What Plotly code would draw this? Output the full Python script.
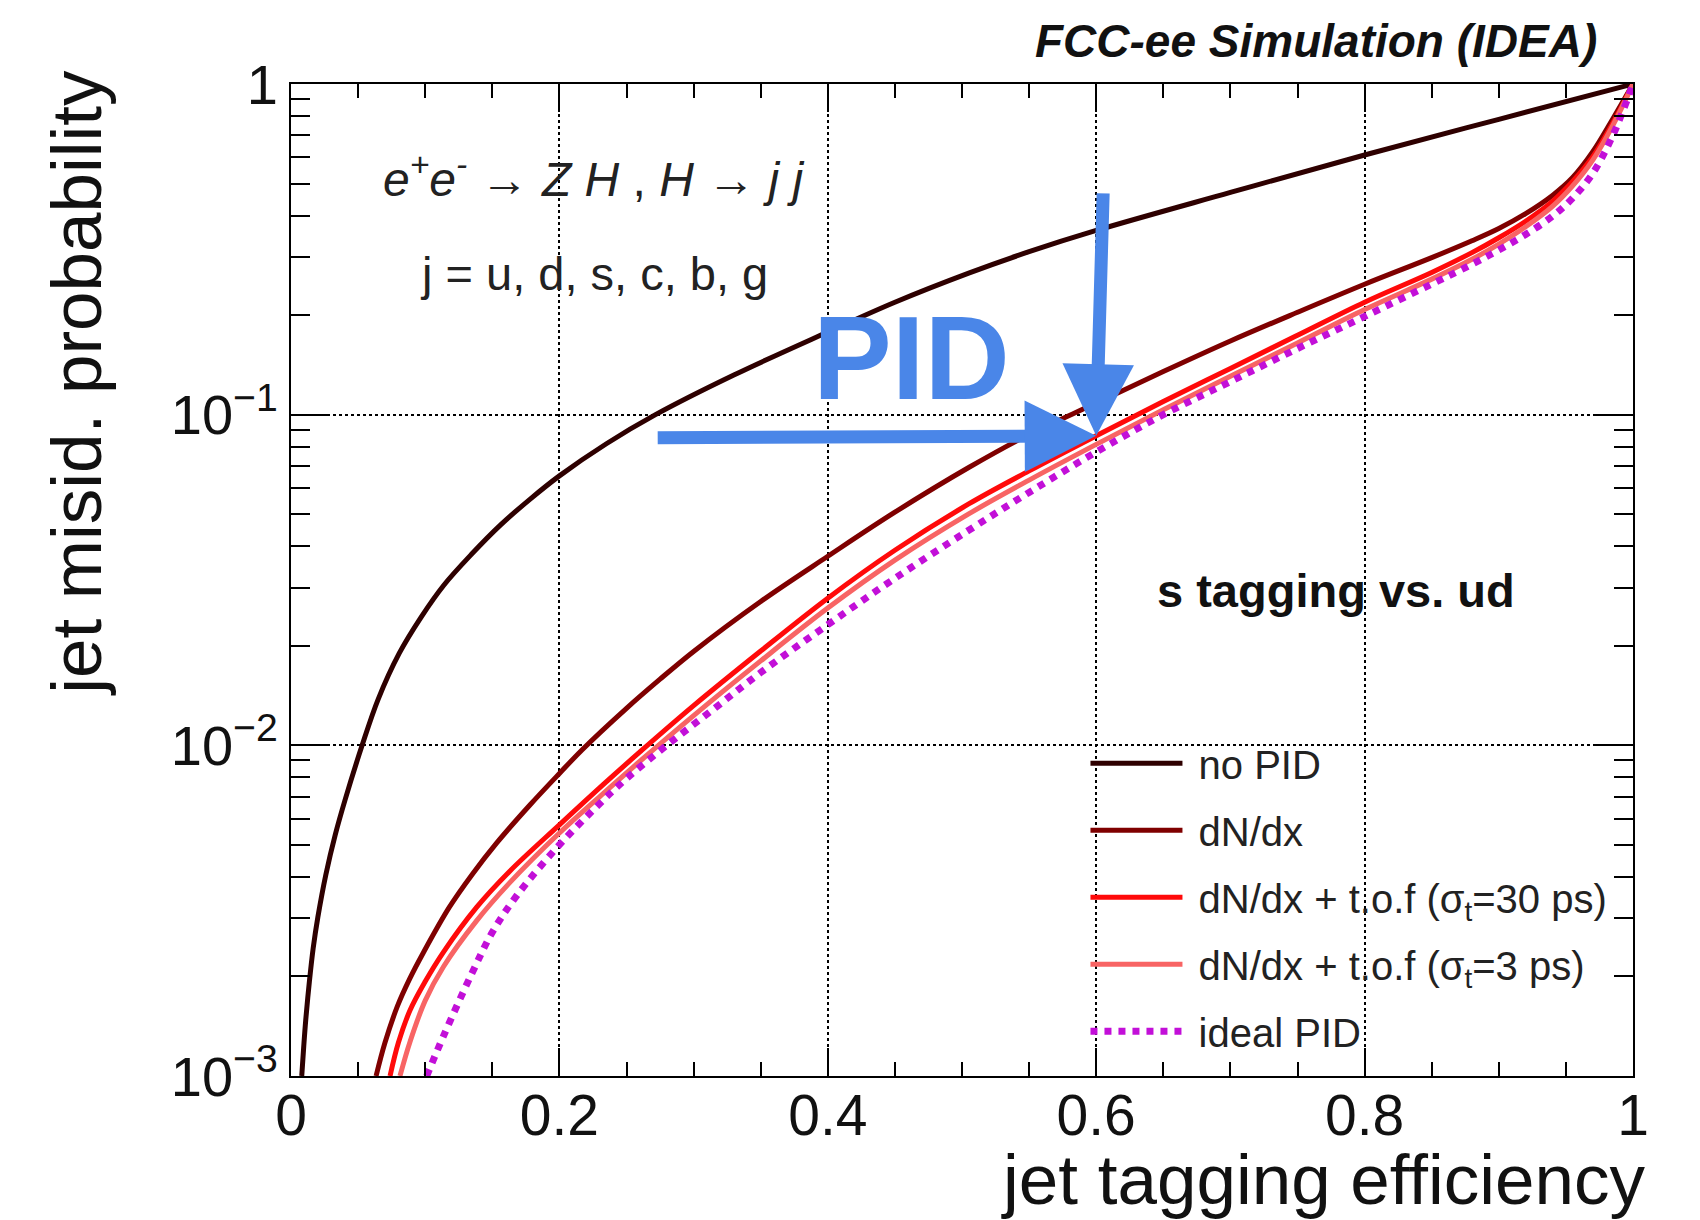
import numpy as np
import plotly.graph_objects as go

# ---------------- data ----------------
eff_nopid = [0.008, 0.0095, 0.011, 0.0137, 0.0165, 0.02, 0.026, 0.033, 0.0403, 0.053, 0.065,
             0.0806, 0.097, 0.114, 0.135, 0.156, 0.178, 0.2, 0.235, 0.2716, 0.33, 0.4, 0.45,
             0.505, 0.55, 0.6, 0.7, 0.8, 0.9, 1.0]
mis_nopid = [0.001, 0.00123, 0.00148, 0.00193, 0.00243, 0.00302, 0.00407, 0.00537, 0.00684,
             0.01, 0.0138, 0.01897, 0.02443, 0.03055, 0.03802, 0.04634, 0.05546, 0.0653,
             0.08166, 0.1, 0.1318, 0.1778, 0.2188, 0.268, 0.311, 0.3606, 0.47, 0.61, 0.782, 1.0]

eff_dndx = [0.0634, 0.07, 0.0793, 0.0885, 0.0986, 0.118, 0.135, 0.1533, 0.1782, 0.2, 0.217,
            0.25, 0.275, 0.3, 0.35, 0.4, 0.45, 0.505, 0.55, 0.6, 0.65, 0.7, 0.75, 0.8, 0.85,
            0.88, 0.9, 0.92, 0.94, 0.955, 0.97, 0.985, 1.0]
mis_dndx = [0.001, 0.00126, 0.001626, 0.00197, 0.00236, 0.00324, 0.00407, 0.00507, 0.00661,
            0.00822, 0.0097, 0.01294, 0.01585, 0.01923, 0.02723, 0.0373, 0.0507, 0.0692, 0.0871,
            0.1084, 0.135, 0.167, 0.204, 0.248, 0.2985, 0.3357, 0.3656, 0.4055, 0.4603,
            0.5212, 0.6237, 0.7852, 1.0]

eff_tof30 = [0.0738, 0.08, 0.0887, 0.1, 0.1136, 0.1384, 0.1632, 0.2, 0.2328, 0.26, 0.3, 0.35,
             0.4, 0.45, 0.505, 0.55, 0.6, 0.65, 0.7, 0.75, 0.8, 0.85, 0.88, 0.9, 0.92, 0.94,
             0.955, 0.97, 0.985, 1.0]
mis_tof30 = [0.001, 0.00126, 0.00158, 0.00193, 0.00237, 0.00324, 0.00417, 0.00575, 0.00762,
             0.00955, 0.01318, 0.01928, 0.02786, 0.0389, 0.0537, 0.0676, 0.0863, 0.1096, 0.138,
             0.1738, 0.2188, 0.2692, 0.309, 0.3428, 0.3846, 0.4416, 0.507, 0.6026, 0.762, 1.0]

eff_tof3 = [0.0812, 0.0887, 0.1, 0.1136, 0.1384, 0.1632, 0.2, 0.2328, 0.26, 0.3, 0.35, 0.4,
            0.45, 0.505, 0.55, 0.6, 0.65, 0.7, 0.75, 0.8, 0.85, 0.88, 0.9, 0.92, 0.94, 0.955,
            0.97, 0.985, 1.0]
mis_tof3 = [0.001, 0.00127, 0.00169, 0.00214, 0.00295, 0.00385, 0.00543, 0.00716, 0.00895,
            0.0123, 0.018, 0.026, 0.0363, 0.0501, 0.0634, 0.0813, 0.1035, 0.1306, 0.1648,
            0.208, 0.257, 0.295, 0.328, 0.37, 0.4266, 0.492, 0.5888, 0.75, 1.0]

eff_ideal = [0.1011, 0.1136, 0.1347, 0.15, 0.1682, 0.198, 0.2266, 0.25, 0.28, 0.315, 0.35,
             0.4, 0.45, 0.505, 0.55, 0.6, 0.65, 0.7, 0.75, 0.8, 0.85, 0.88, 0.9, 0.92, 0.94,
             0.955, 0.97, 0.985, 1.0]
mis_ideal = [0.001, 0.00132, 0.00204, 0.00272, 0.00351, 0.0049, 0.00646, 0.00794, 0.01,
             0.01288, 0.0166, 0.02317, 0.032, 0.0447, 0.0582, 0.0771, 0.1, 0.1259, 0.1585,
             0.1982, 0.2483, 0.2851, 0.3148, 0.3508, 0.3981, 0.4519, 0.537, 0.6998, 1.0]

x_ticks = [0, 0.2, 0.4, 0.6, 0.8, 1]
x_tick_labels = ["0", "0.2", "0.4", "0.6", "0.8", "1"]
y_ticks = [1e-3, 1e-2, 1e-1, 1]
y_tick_labels = ["10<sup>\u22123</sup>", "10<sup>\u22122</sup>", "10<sup>\u22121</sup>", "1"]

names = ["no PID", "dN/dx",
         "dN/dx + t.o.f (\u03c3<sub>t</sub>=30 ps)",
         "dN/dx + t.o.f (\u03c3<sub>t</sub>=3 ps)",
         "ideal PID"]
colors = ["#2e0000", "#7f0000", "#ff0a0a", "#f86464", "#c20fd8"]

FONT = "Liberation Sans, Arial, Helvetica, sans-serif"
BLUE = "#4a86e8"

fig = go.Figure()
series = [(eff_nopid, mis_nopid), (eff_dndx, mis_dndx), (eff_tof30, mis_tof30),
          (eff_tof3, mis_tof3), (eff_ideal, mis_ideal)]
for i, ((ex, my), nm, col) in enumerate(zip(series, names, colors)):
    dotted = (i == 4)
    fig.add_trace(go.Scatter(
        x=ex, y=my, mode="lines", name="\u00a0" + nm, legendgroup=f"g{i}",
        line=dict(color=col, width=7 if dotted else 5,
                  dash="dot" if dotted else "solid",
                  shape="spline", smoothing=1.0),
    ))

minor_y = [m * 10.0 ** k for k in (-3, -2, -1) for m in range(2, 10)]

fig.update_layout(
    width=1700, height=1220,
    margin=dict(l=291, r=67, t=84, b=144),
    paper_bgcolor="white", plot_bgcolor="white",
    font=dict(family=FONT, color="black"),
    showlegend=True,
    legend=dict(x=0.592, y=0.348, xanchor="left", yanchor="top",
                bgcolor="rgba(0,0,0,0)", borderwidth=0,
                font=dict(size=40, family=FONT, color="#222"),
                itemwidth=92, tracegroupgap=12),
    xaxis=dict(range=[0, 1], tickvals=x_ticks, ticktext=x_tick_labels,
               showline=True, linecolor="black", linewidth=2, mirror="allticks",
               ticks="inside", ticklen=28, tickwidth=2, tickcolor="black",
               tickfont=dict(size=57, family=FONT, color="#111"),
               ticklabelstandoff=-11,
               showgrid=True, gridcolor="black", gridwidth=2, griddash="dot",
               zeroline=False,
               minor=dict(dtick=0.05, ticks="inside", ticklen=14, tickwidth=2,
                          tickcolor="black", showgrid=False)),
    yaxis=dict(type="log", range=[-3, 0], tickvals=y_ticks, ticktext=y_tick_labels,
               showline=True, linecolor="black", linewidth=2, mirror="allticks",
               ticks="inside", ticklen=37, tickwidth=2, tickcolor="black",
               tickfont=dict(size=56, family=FONT, color="#111"),
               ticklabelstandoff=0,
               showgrid=True, gridcolor="black", gridwidth=2, griddash="dot",
               zeroline=False,
               minor=dict(tickvals=minor_y, ticks="inside", ticklen=19, tickwidth=2,
                          tickcolor="black", showgrid=False)),
)

# axis titles (ROOT style, aligned to the ends of the axes)
fig.add_annotation(text="jet tagging efficiency", xref="paper", yref="paper",
                   x=1.011, y=-0.104, xanchor="right", yanchor="middle",
                   showarrow=False, font=dict(size=71, family=FONT, color="#111"))
fig.add_annotation(text="jet misid. probability", xref="paper", yref="paper",
                   x=-0.160, y=0.699, xanchor="center", yanchor="middle", textangle=-90,
                   showarrow=False, font=dict(size=71, family=FONT, color="#111"))

# labels
fig.add_annotation(text="<b><i>FCC-ee Simulation (IDEA)</i></b>", xref="paper", yref="paper",
                   x=0.975, y=1.043, xanchor="right", yanchor="middle",
                   showarrow=False, font=dict(size=46, family=FONT, color="#111"))
fig.add_annotation(text="<i>e<sup>+</sup>e<sup>-</sup></i> \u2192 <i>Z H</i> , <i>H</i> \u2192 <i>j j</i>",
                   xref="paper", yref="paper", x=0.226, y=0.907,
                   xanchor="center", yanchor="middle", showarrow=False,
                   font=dict(size=48, family=FONT, color="#222"))
fig.add_annotation(text="j = u, d, s, c, b, g", xref="paper", yref="paper",
                   x=0.226, y=0.809, xanchor="center", yanchor="middle", showarrow=False,
                   font=dict(size=47, family=FONT, color="#222"))
fig.add_annotation(text="<b>s tagging vs. ud</b>", xref="paper", yref="paper",
                   x=0.779, y=0.489, xanchor="center", yanchor="middle", showarrow=False,
                   font=dict(size=47, family=FONT, color="#111"))
fig.add_annotation(text="<b>PID</b>", xref="paper", yref="paper",
                   x=0.462, y=0.724, xanchor="center", yanchor="middle", showarrow=False,
                   font=dict(size=118, family=FONT, color=BLUE))

# blue arrows pointing at the 30 ps curve at 60% efficiency
tip_x = 0.6
tip_y = float(np.log10(np.interp(tip_x, eff_tof30, mis_tof30)))
for ax, ay in [(-440, 2), (7, -244)]:
    fig.add_annotation(x=tip_x, y=tip_y, xref="x", yref="y", text="",
                       showarrow=True, arrowhead=2, arrowwidth=13, arrowsize=1.1,
                       arrowcolor=BLUE, ax=ax, ay=ay)

fig.write_html("out.html")
